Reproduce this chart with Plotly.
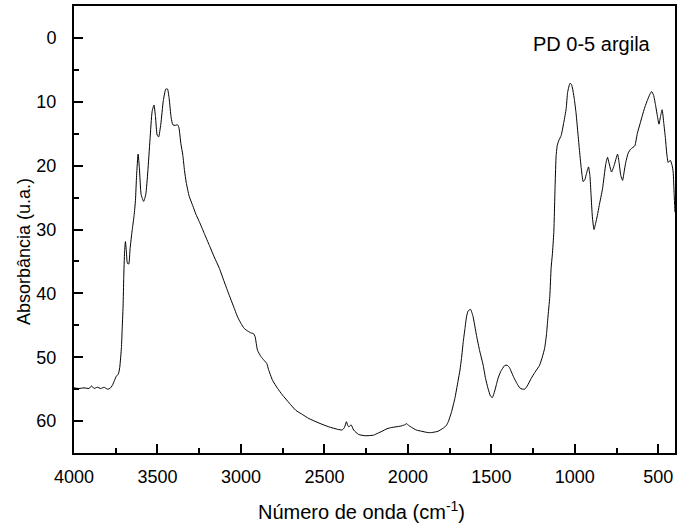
import plotly.graph_objects as go

# FTIR spectrum of sample PD 0-5 (clay fraction)
wavenumber = [
    4000, 3970, 3940, 3910, 3895, 3880, 3860, 3840, 3820, 3800, 3785, 3770,
    3757, 3745, 3735, 3726, 3716, 3712, 3706, 3702, 3697, 3692, 3686, 3680,
    3672, 3664, 3652, 3640, 3632, 3625, 3616, 3608, 3598, 3583, 3570, 3558,
    3545, 3532, 3521, 3512, 3502, 3493, 3480, 3465, 3450, 3440, 3430, 3418,
    3408, 3395, 3380, 3372, 3360, 3348, 3338, 3328, 3310, 3289, 3270, 3249,
    3220, 3189, 3160, 3129, 3100, 3070, 3045, 3020, 3000, 2980, 2960, 2940,
    2925, 2915, 2901, 2880, 2861, 2845, 2835, 2811, 2780, 2752, 2710, 2672,
    2630, 2593, 2533, 2474, 2420, 2394, 2380, 2368, 2360, 2354, 2340, 2325,
    2295, 2255, 2205, 2180, 2155, 2125, 2096, 2046, 2020, 2007, 1995, 1977,
    1950, 1917, 1880, 1858, 1820, 1788, 1770, 1758, 1740, 1719, 1700, 1688,
    1679, 1668, 1658, 1649, 1640, 1625, 1610, 1589, 1570, 1549, 1535, 1520,
    1505, 1494, 1480, 1470, 1460, 1445, 1434, 1420, 1406, 1392, 1380, 1365,
    1347, 1330, 1315, 1300, 1285, 1261, 1240, 1211, 1195, 1181, 1170, 1162,
    1150, 1142, 1135, 1126, 1118, 1112, 1105, 1095, 1082, 1066, 1052, 1043,
    1029, 1020, 1013, 1003, 993, 983, 973, 962, 950, 940, 930, 918,
    910, 903, 895, 885, 875, 865, 854, 834, 815, 804, 795, 780,
    765, 744, 735, 725, 714, 705, 695, 680, 665, 641, 626, 610,
    596, 580, 566, 550, 540, 528, 516, 505, 496, 486, 477, 467,
    457, 449, 441, 434, 427, 417, 411, 405, 400,
]
absorbance = [
    54.8, 54.9, 54.8, 54.9, 54.5, 54.9, 54.7, 54.9, 54.7, 55.0, 54.9, 54.4,
    53.6, 52.9, 52.7, 51.6, 48.5, 46.0, 42.0, 37.5, 33.5, 31.9, 33.5, 35.3,
    35.4, 33.0, 30.2, 27.8, 25.5, 21.5, 18.2, 20.5, 24.5, 25.6, 24.5, 21.0,
    16.0, 11.5, 10.5, 12.3, 15.2, 15.5, 13.5, 9.8, 8.0, 8.0, 9.5, 12.5,
    13.6, 13.7, 13.6, 14.0, 16.5, 18.4, 20.8, 22.6, 24.8, 26.25, 27.6, 28.8,
    30.6, 32.5, 34.3, 36.1, 38.2, 40.3, 42.0, 43.7, 44.7, 45.5, 45.9, 46.2,
    46.3, 46.8, 48.9, 49.9, 50.5, 51.0, 51.9, 53.6, 54.9, 55.9, 57.2, 58.3,
    59.0, 59.6, 60.3, 60.9, 61.3, 61.4, 61.0, 60.1, 60.7, 60.9, 60.6, 61.4,
    62.1, 62.3, 62.2, 61.9, 61.6, 61.2, 61.0, 60.8, 60.6, 60.4, 60.7, 61.0,
    61.4, 61.6, 61.8, 61.8, 61.6, 61.1, 60.7, 60.1, 58.7, 56.5, 53.8, 52.0,
    50.2, 47.5, 45.5, 43.7, 42.8, 42.5, 43.6, 46.6, 49.0, 51.25, 53.3, 54.9,
    56.1, 56.3, 55.3, 54.3, 53.3, 52.3, 51.8, 51.3, 51.25, 51.6, 52.3, 53.2,
    54.1, 54.8, 55.0, 55.0, 54.5, 53.3, 52.4, 51.25, 50.0, 48.6, 46.5, 44.0,
    40.5, 36.0, 34.0, 30.5, 23.0, 18.4, 16.8, 16.0, 15.3, 13.2, 11.1, 8.5,
    7.1, 7.3, 8.0, 9.6, 11.7, 14.5, 17.4, 20.3, 22.5, 22.2, 21.2, 20.2,
    21.5, 24.5, 28.0, 30.0, 29.0, 27.8, 26.25, 23.6, 19.8, 18.7, 19.6, 21.0,
    20.0, 18.2, 19.5, 21.5, 22.3, 21.0, 19.5, 18.0, 17.4, 16.9, 15.0, 13.5,
    12.2, 10.8, 9.8, 8.8, 8.4, 9.0, 10.6, 12.3, 13.5, 12.2, 11.25, 13.4,
    15.8, 18.2, 19.5, 19.3, 19.2, 20.0, 21.0, 24.5, 27.3,
]

x_ticks = [4000, 3500, 3000, 2500, 2000, 1500, 1000, 500]
y_ticks = [0, 10, 20, 30, 40, 50, 60]

font_family = "Liberation Sans, Arial, sans-serif"

fig = go.Figure()
fig.add_trace(go.Scatter(
    x=wavenumber, y=absorbance, mode="lines",
    line=dict(color="black", width=1, shape="spline", smoothing=0.5),
    showlegend=False, hoverinfo="skip",
))

axis_common = dict(
    showline=True, linecolor="black", linewidth=2, mirror=True,
    ticks="inside", tickcolor="black", tickwidth=1.5, ticklen=9,
    showgrid=False, zeroline=False,
    tickfont=dict(family=font_family, size=18, color="black"),
)

fig.update_xaxes(
    range=[4000, 400], tickvals=x_ticks, ticktext=[str(v) for v in x_ticks],
    minor=dict(ticks="inside", ticklen=5, tickwidth=1.5, tickcolor="black", dtick=250, tick0=0),
    ticklabelstandoff=6,
    **axis_common,
)
fig.update_yaxes(
    range=[65, -5], tickvals=y_ticks, ticktext=[str(v) for v in y_ticks],
    minor=dict(ticks="inside", ticklen=5, tickwidth=1.5, tickcolor="black", dtick=5, tick0=0),
    ticklabelstandoff=12,
    **axis_common,
)

fig.add_annotation(
    text="PD 0-5 argila", xref="paper", yref="paper", x=0.963, y=0.915,
    xanchor="right", yanchor="middle", showarrow=False,
    font=dict(family=font_family, size=20, color="black"),
)
fig.add_annotation(
    text="Número de onda (cm<sup>-1</sup>)", xref="paper", yref="paper",
    x=0.478, y=-0.128, xanchor="center", yanchor="middle", showarrow=False,
    font=dict(family=font_family, size=20, color="black"),
)
fig.add_annotation(
    text="Absorbância (u.a.)", xref="paper", yref="paper",
    x=-0.083, y=0.45, xanchor="center", yanchor="middle", showarrow=False,
    textangle=-90, font=dict(family=font_family, size=18, color="black"),
)

fig.update_layout(
    width=680, height=531,
    margin=dict(l=74, r=3, t=6, b=78),
    paper_bgcolor="white", plot_bgcolor="white",
)

fig.write_html("out.html")
